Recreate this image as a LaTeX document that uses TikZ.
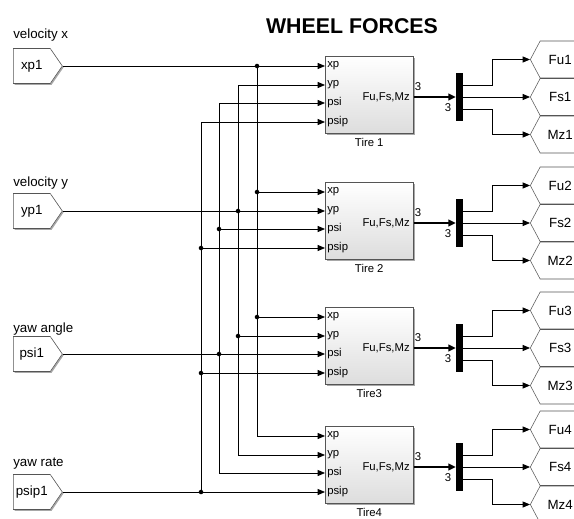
\documentclass[tikz,border=0pt]{standalone}
\usepackage{fontspec}
\setmainfont{Liberation Sans}
\usetikzlibrary{shapes.symbols, arrows.meta, positioning, calc, shadows}
\definecolor{edgegray}{HTML}{555555}
\definecolor{shadowgray}{HTML}{A8A8A8}
\definecolor{blockbot}{HTML}{DDDDDD}

\begin{document}
\begin{tikzpicture}[
    x=0.75pt, y=-0.75pt,
    every node/.style={font=\fontsize{10}{12}\selectfont},
    head/.style={font=\bfseries\fontsize{16}{18}\selectfont},
    inport/.style={signal, signal to=east, signal pointer angle=111, draw=edgegray,
                   fill=white, minimum width=36.75pt, minimum height=26.25pt,
                   anchor=west, inner sep=1pt,
                   drop shadow={shadow xshift=1pt, shadow yshift=-1pt, fill=shadowgray, opacity=1}},
    outport/.style={signal, signal to=west, signal pointer angle=124, draw=edgegray,
                    fill=white, minimum width=37.5pt, minimum height=27.75pt,
                    anchor=west, inner sep=1pt},
    tire/.style={rectangle, draw=edgegray, top color=white, bottom color=blockbot,
                 minimum width=66pt, minimum height=57.75pt, anchor=north west,
                 drop shadow={shadow xshift=1.5pt, shadow yshift=-1.5pt, fill=shadowgray, opacity=1}},
    demux/.style={rectangle, fill=black, minimum width=5.25pt, minimum height=36pt,
                  inner sep=0pt},
    plabel/.style={font=\fontsize{8.5}{10}\selectfont, anchor=west, inner sep=1.5pt},
    dim/.style={font=\fontsize{8.5}{10}\selectfont, inner sep=0pt},
    lab/.style={anchor=base west, inner sep=0pt},
    arr/.style={-{Triangle[length=5.5pt, width=4.5pt]}, line width=0.6pt},
    busarr/.style={-{Triangle[length=5.5pt, width=5pt]}, line width=2.2pt}
]
\useasboundingbox (0,0) rectangle (574,518);
\clip (0,0) rectangle (574,518);

% Title
\node[head] (title) at (352,26) {WHEEL FORCES};

% Inputs
\node[inport] (xp1) at (13,66) {xp1};
\node[inport] (yp1) at (13,211) {yp1};
\node[inport] (psi1) at (13,354) {psi1};
\node[inport] (psip1) at (13,492) {psip1};
\node[lab] (vx) at (13,38) {velocity x};
\node[lab] (vy) at (13,186) {velocity y};
\node[lab] (ya) at (13,332) {yaw angle};
\node[lab] (yr) at (13,466) {yaw rate};

% Bus columns
\coordinate (bxp) at (257,66);
\coordinate (byp) at (238,66);
\coordinate (bpsi) at (219,66);
\coordinate (bpsip) at (201,66);

% Tire blocks
\node[tire] (t1) at (325,56) {};
\node[tire] (t2) at (325,182) {};
\node[tire] (t3) at (325,307) {};
\node[tire] (t4) at (325,426) {};
\node[plabel, below=2pt of t1, anchor=north] (n1) {Tire 1};
\node[plabel, below=2pt of t2, anchor=north] (n2) {Tire 2};
\node[plabel, below=2pt of t3, anchor=north] (n3) {Tire3};
\node[plabel, below=2pt of t4, anchor=north] (n4) {Tire4};

% Block inputs
\node[plabel] (t1xp) at (325,66) {xp};
\node[plabel] (t1yp) at (325,85) {yp};
\node[plabel] (t1psi) at (325,103) {psi};
\node[plabel] (t1psip) at (325,122) {psip};
\node[plabel] (t2xp) at (325,192) {xp};
\node[plabel] (t2yp) at (325,211) {yp};
\node[plabel] (t2psi) at (325,229) {psi};
\node[plabel] (t2psip) at (325,248) {psip};
\node[plabel] (t3xp) at (325,317) {xp};
\node[plabel] (t3yp) at (325,336) {yp};
\node[plabel] (t3psi) at (325,354) {psi};
\node[plabel] (t3psip) at (325,373) {psip};
\node[plabel] (t4xp) at (325,436) {xp};
\node[plabel] (t4yp) at (325,455) {yp};
\node[plabel] (t4psi) at (325,473) {psi};
\node[plabel] (t4psip) at (325,492) {psip};

% Block outputs
\node[plabel, anchor=east] (t1f) at (412,97) {Fu,Fs,Mz};
\node[plabel, anchor=east] (t2f) at (412,223) {Fu,Fs,Mz};
\node[plabel, anchor=east] (t3f) at (412,348) {Fu,Fs,Mz};
\node[plabel, anchor=east] (t4f) at (412,467) {Fu,Fs,Mz};

% Demuxes
\node[demux] (d1) at (459.5,97) {};
\node[demux] (d2) at (459.5,223) {};
\node[demux] (d3) at (459.5,348) {};
\node[demux] (d4) at (459.5,467) {};
\node[dim] (w1a) at (418,87) {3};
\node[dim] (w1b) at (448,108) {3};
\node[dim] (w2a) at (418,213) {3};
\node[dim] (w2b) at (448,234) {3};
\node[dim] (w3a) at (418,338) {3};
\node[dim] (w3b) at (448,359) {3};
\node[dim] (w4a) at (418,457) {3};
\node[dim] (w4b) at (448,478) {3};

% Outputs
\node[outport] (fu1) at (530,59.5) {Fu1};
\node[outport] (fs1) at (530,97) {Fs1};
\node[outport] (mz1) at (530,134.5) {Mz1};
\node[outport] (fu2) at (530,185.5) {Fu2};
\node[outport] (fs2) at (530,223) {Fs2};
\node[outport] (mz2) at (530,260.5) {Mz2};
\node[outport] (fu3) at (530,310.5) {Fu3};
\node[outport] (fs3) at (530,348) {Fs3};
\node[outport] (mz3) at (530,385.5) {Mz3};
\node[outport] (fu4) at (530,429.5) {Fu4};
\node[outport] (fs4) at (530,467) {Fs4};
\node[outport] (mz4) at (530,504.5) {Mz4};

% xp wiring
\draw[arr] (xp1.east) -- (t1xp.west);
\draw[arr] (bxp |- t1xp.west) |- (t4xp.west);
\draw[arr] (bxp |- t2xp.west) -- (t2xp.west);
\draw[arr] (bxp |- t3xp.west) -- (t3xp.west);
\fill (bxp |- t1xp.west) circle (1.7pt) (bxp |- t2xp.west) circle (1.7pt)
      (bxp |- t3xp.west) circle (1.7pt);

% yp wiring
\draw[arr] (yp1.east) -- (t2yp.west);
\draw[arr] (byp |- t2yp.west) |- (t1yp.west);
\draw[arr] (byp |- t2yp.west) |- (t4yp.west);
\draw[arr] (byp |- t3yp.west) -- (t3yp.west);
\fill (byp |- t2yp.west) circle (1.7pt) (byp |- t3yp.west) circle (1.7pt);

% psi wiring
\draw[arr] (psi1.east) -- (t3psi.west);
\draw[arr] (bpsi |- t3psi.west) |- (t1psi.west);
\draw[arr] (bpsi |- t3psi.west) |- (t4psi.west);
\draw[arr] (bpsi |- t2psi.west) -- (t2psi.west);
\fill (bpsi |- t2psi.west) circle (1.7pt) (bpsi |- t3psi.west) circle (1.7pt);

% psip wiring
\draw[arr] (psip1.east) -- (t4psip.west);
\draw[arr] (bpsip |- t4psip.west) |- (t1psip.west);
\draw[arr] (bpsip |- t2psip.west) -- (t2psip.west);
\draw[arr] (bpsip |- t3psip.west) -- (t3psip.west);
\fill (bpsip |- t2psip.west) circle (1.7pt) (bpsip |- t3psip.west) circle (1.7pt)
      (bpsip |- t4psip.west) circle (1.7pt);

% Forces to demux
\draw[busarr] (t1.east |- d1.west) -- (d1.west);
\draw[busarr] (t2.east |- d2.west) -- (d2.west);
\draw[busarr] (t3.east |- d3.west) -- (d3.west);
\draw[busarr] (t4.east |- d4.west) -- (d4.west);

% Demux to outputs
\draw[arr] ($(d1.east)+(0,-12)$) -- ++(29,0) |- (fu1.west);
\draw[arr] (d1.east) -- (fs1.west);
\draw[arr] ($(d1.east)+(0,12)$) -- ++(29,0) |- (mz1.west);
\draw[arr] ($(d2.east)+(0,-12)$) -- ++(29,0) |- (fu2.west);
\draw[arr] (d2.east) -- (fs2.west);
\draw[arr] ($(d2.east)+(0,12)$) -- ++(29,0) |- (mz2.west);
\draw[arr] ($(d3.east)+(0,-12)$) -- ++(29,0) |- (fu3.west);
\draw[arr] (d3.east) -- (fs3.west);
\draw[arr] ($(d3.east)+(0,12)$) -- ++(29,0) |- (mz3.west);
\draw[arr] ($(d4.east)+(0,-12)$) -- ++(29,0) |- (fu4.west);
\draw[arr] (d4.east) -- (fs4.west);
\draw[arr] ($(d4.east)+(0,12)$) -- ++(29,0) |- (mz4.west);

\end{tikzpicture}
\end{document}
